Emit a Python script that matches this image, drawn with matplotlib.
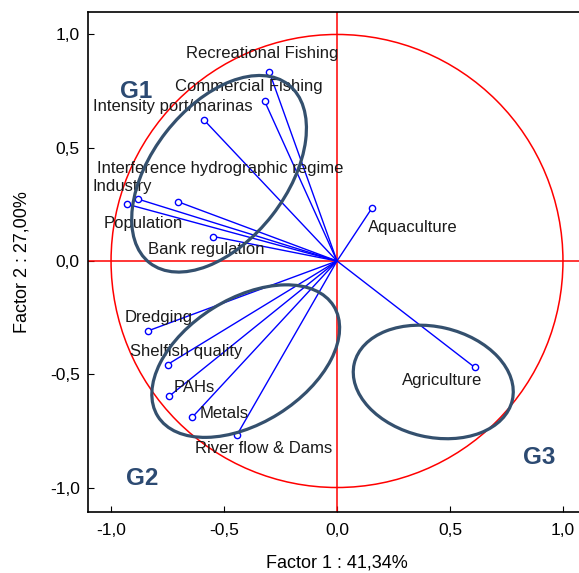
import matplotlib
matplotlib.use('Agg')
import matplotlib.pyplot as plt
from matplotlib.patches import Ellipse, Circle

plt.rcParams['font.family'] = ['Liberation Sans', 'DejaVu Sans']

# Factor loadings (Factor 1, Factor 2)
variables = ['Recreational Fishing', 'Commercial Fishing', 'Intensity port/marinas',
             'Interference hydrographic regime', 'Industry', 'Population',
             'Bank regulation', 'Aquaculture', 'Agriculture', 'Dredging',
             'Shelfish quality', 'PAHs', 'Metals', 'River flow & Dams']
factor1 = [-0.30, -0.32, -0.59, -0.705, -0.88, -0.93, -0.547, 0.155, 0.61,
           -0.835, -0.75, -0.743, -0.64, -0.444]
factor2 = [0.836, 0.705, 0.624, 0.262, 0.273, 0.251, 0.108, 0.234, -0.47,
           -0.308, -0.457, -0.597, -0.689, -0.77]

# label anchors (left edge, vertical centre), in data units
label_xy = [(-0.669, 0.915), (-0.717, 0.770), (-1.080, 0.681), (-1.062, 0.407),
            (-1.084, 0.328), (-1.035, 0.164), (-0.836, 0.049), (0.137, 0.150),
            (0.288, -0.527), (-0.938, -0.248), (-0.916, -0.398), (-0.725, -0.557),
            (-0.606, -0.672), (-0.628, -0.827)]

# group ellipses: centre, width, height, angle
groups = ['G1', 'G2', 'G3']
group_ell = [((-0.522, 0.385), 0.998, 0.596, 52),
             ((-0.404, -0.442), 0.918, 0.549, 32),
             ((0.426, -0.534), 0.718, 0.487, -13)]
group_lab = [(-0.889, 0.748), (-0.862, -0.96), (0.894, -0.867)]

fig = plt.figure(figsize=(5.79, 5.73), dpi=100, facecolor='white')
ax = fig.add_axes([0.152, 0.1065, 0.848, 0.8725])

ax.set_xlim(-1.102, 1.071)
ax.set_ylim(-1.108, 1.099)

# unit circle and axes through origin
ax.add_patch(Circle((0, 0), 1.0, fill=False, edgecolor='red', linewidth=1.1, zorder=2))
ax.axhline(0, color='red', linewidth=1.1, zorder=2)
ax.axvline(0, color='red', linewidth=1.1, zorder=2)

# loading vectors
for x, y in zip(factor1, factor2):
    ax.plot([0, x], [0, y], color='blue', linewidth=1.0, zorder=3)
ax.plot(factor1, factor2, 'o', markersize=4.5, markerfacecolor='white',
        markeredgecolor='blue', markeredgewidth=1.0, zorder=4)

for name, (lx, ly) in zip(variables, label_xy):
    ax.text(lx, ly, name, fontsize=12, color='#1a1a1a', ha='left', va='center', zorder=5)

# group ellipses
for (c, w, h, a) in group_ell:
    ax.add_patch(Ellipse(c, w, h, angle=a, fill=False, edgecolor='#34506e',
                         linewidth=2.3, zorder=6))
for g, (gx, gy) in zip(groups, group_lab):
    ax.text(gx, gy, g, fontsize=17.5, fontweight='bold', color='#2c4a72',
            ha='center', va='center', zorder=6)

ticks = [-1.0, -0.5, 0.0, 0.5, 1.0]
tick_labels = ['-1,0', '-0,5', '0,0', '0,5', '1,0']
ax.set_xticks(ticks)
ax.set_xticklabels(tick_labels)
ax.set_yticks(ticks)
ax.set_yticklabels(tick_labels)
ax.tick_params(direction='in', length=4, labelsize=12.5)
ax.tick_params(axis='x', pad=8)
ax.tick_params(axis='y', pad=6)

ax.spines['right'].set_visible(False)
for s in ['left', 'bottom', 'top']:
    ax.spines[s].set_linewidth(1.2)

ax.set_xlabel('Factor 1 : 41,34%', fontsize=13, va='center')
ax.set_ylabel('Factor 2 : 27,00%', fontsize=13, va='center')
ax.xaxis.set_label_coords(0.507, -0.102)
ax.yaxis.set_label_coords(-0.134, 0.5)

fig.savefig('out.png', dpi=100, facecolor='white')
